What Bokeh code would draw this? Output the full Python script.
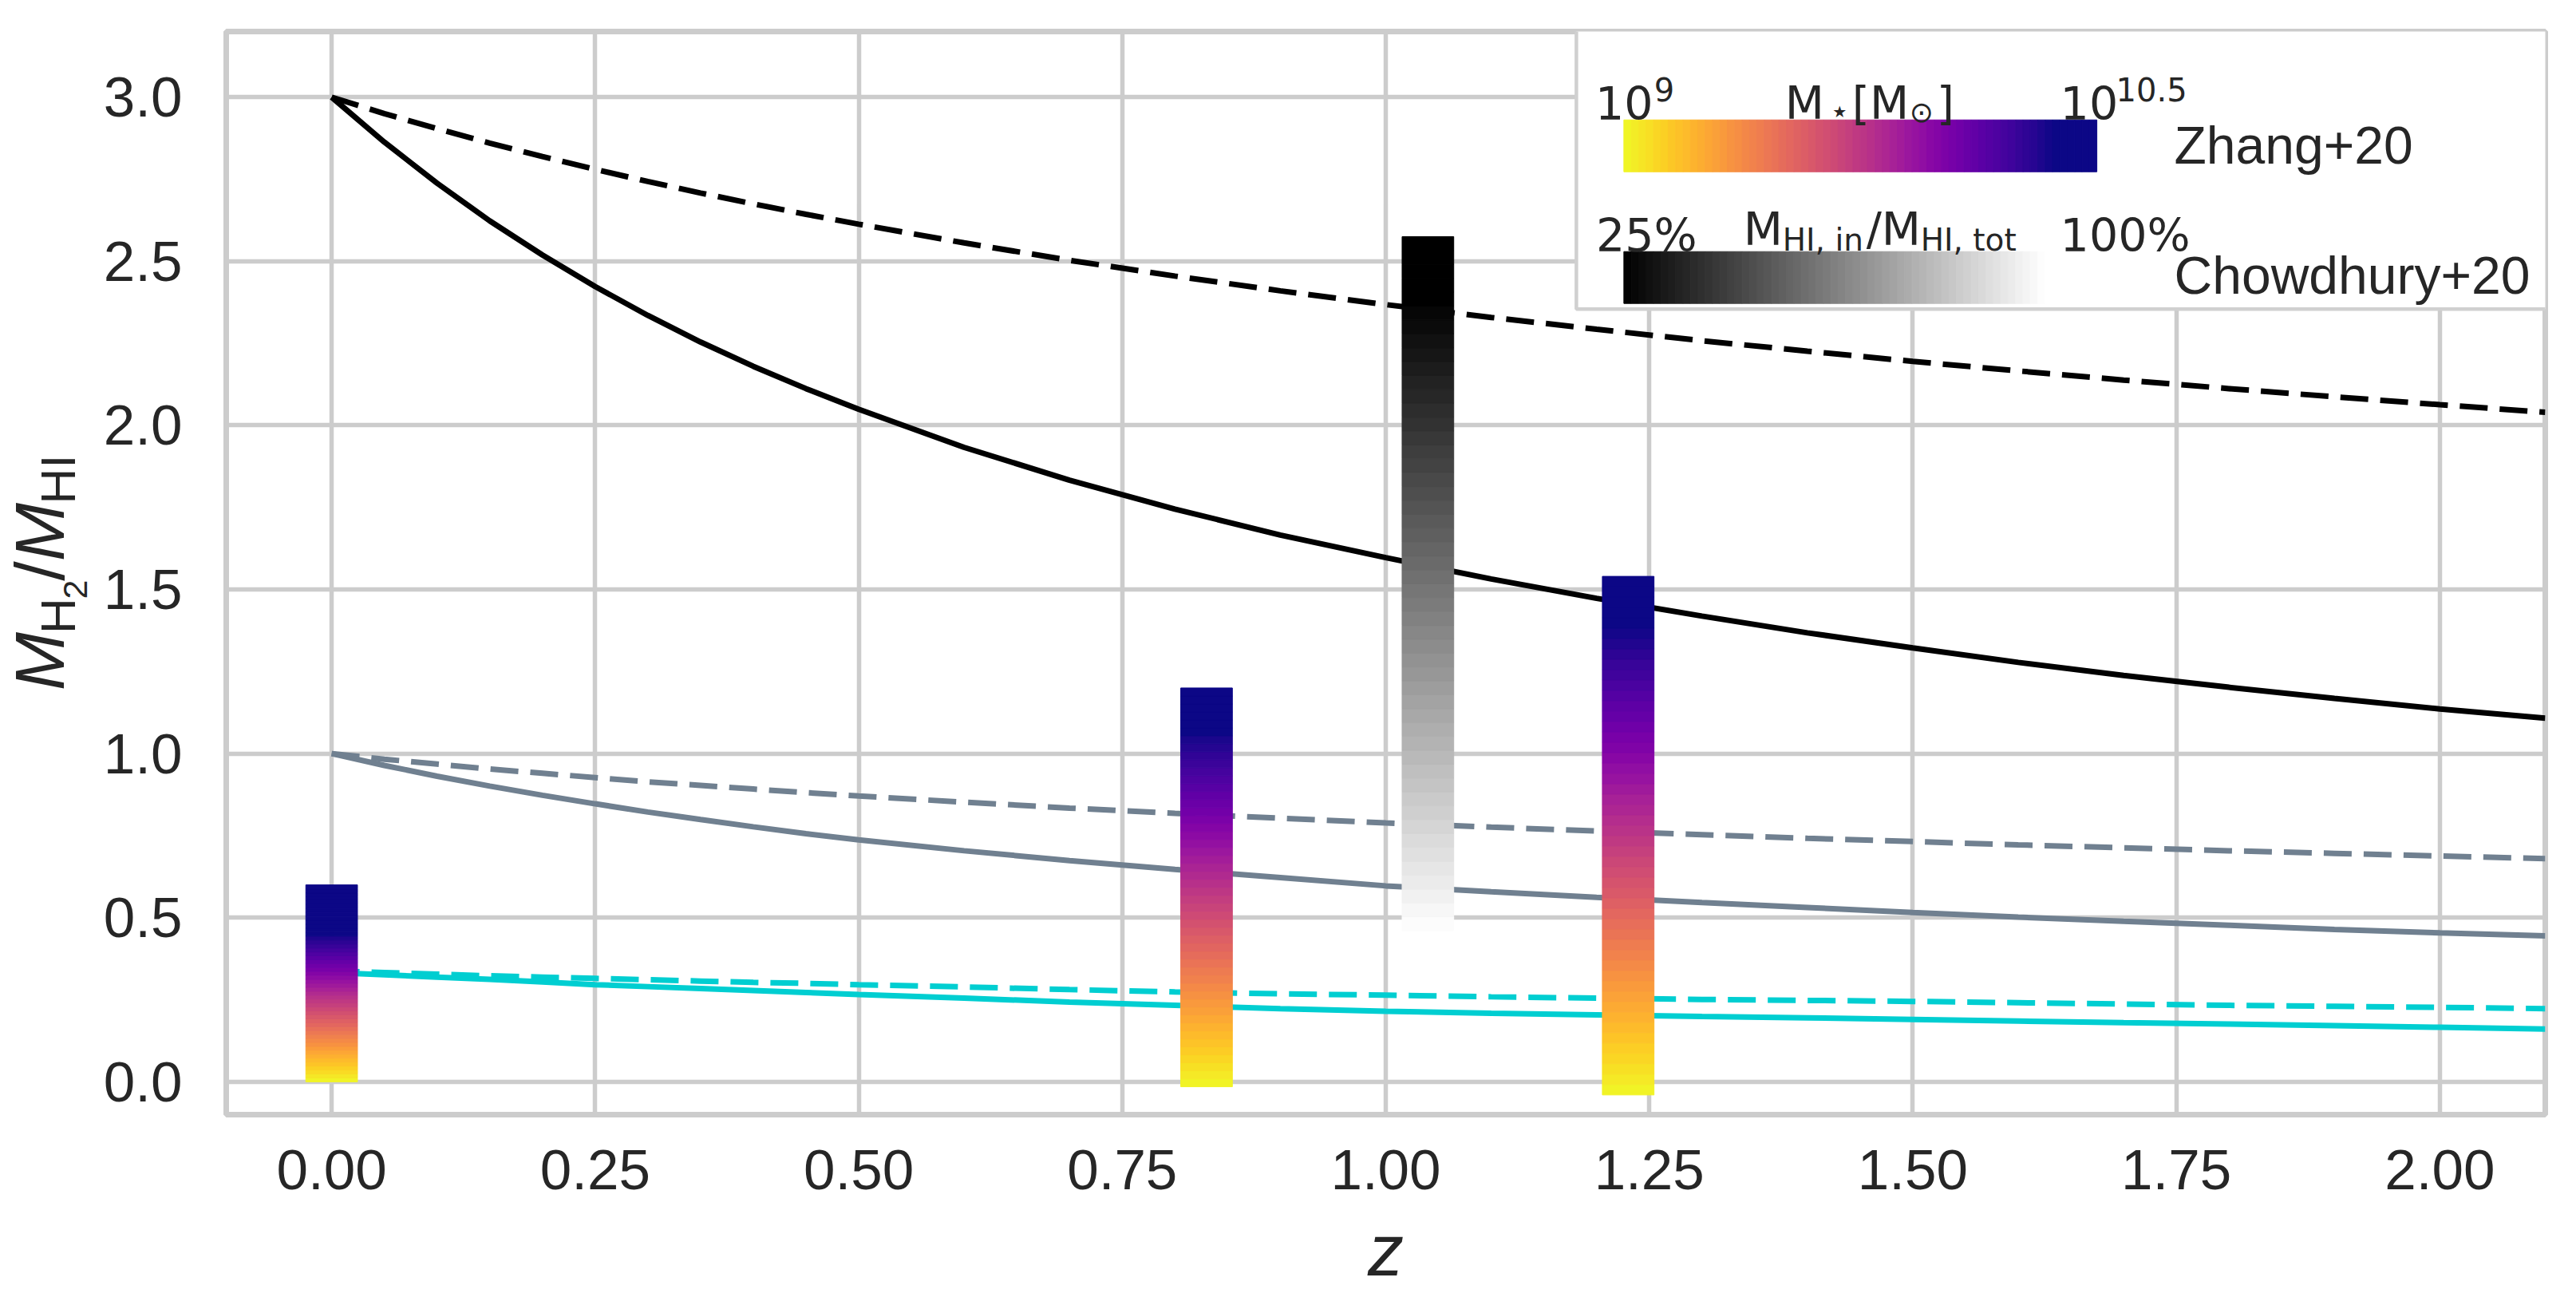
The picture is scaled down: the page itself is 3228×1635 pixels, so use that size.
import numpy as np
from bokeh.plotting import figure
from bokeh.layouts import row
from bokeh.models import Range1d, FixedTicker, Label, NumeralTickFormatter
from bokeh.palettes import Plasma256
from bokeh.embed import file_html
from bokeh.resources import INLINE

# ---------------- data ----------------
z_grid = [0.0, 0.05, 0.1, 0.15, 0.2, 0.25, 0.3, 0.35, 0.4, 0.45, 0.5,
          0.6, 0.7, 0.8, 0.9, 1.0, 1.1, 1.2, 1.3, 1.4, 1.5, 1.6, 1.7, 1.8, 1.9, 2.0, 2.1]
black_solid = [3.000, 2.863, 2.738, 2.623, 2.519, 2.423, 2.335, 2.254, 2.180, 2.112, 2.049,
               1.933, 1.833, 1.745, 1.666, 1.597, 1.532, 1.473, 1.419, 1.368, 1.322,
               1.278, 1.238, 1.202, 1.168, 1.136, 1.108]
black_dashed = [3.000, 2.950, 2.904, 2.860, 2.819, 2.780, 2.743, 2.708, 2.675, 2.643, 2.613,
                2.556, 2.503, 2.455, 2.410, 2.368, 2.329, 2.293, 2.258, 2.226, 2.195,
                2.166, 2.138, 2.112, 2.087, 2.063, 2.040]
gray_solid = [1.000, 0.964, 0.931, 0.901, 0.873, 0.847, 0.822, 0.799, 0.777, 0.756, 0.737,
              0.704, 0.674, 0.647, 0.622, 0.597, 0.579, 0.562, 0.546, 0.531, 0.516,
              0.502, 0.489, 0.477, 0.464, 0.454, 0.445]
gray_dashed = [1.000, 0.983, 0.968, 0.953, 0.940, 0.927, 0.914, 0.903, 0.892, 0.881, 0.871,
               0.852, 0.834, 0.818, 0.803, 0.789, 0.776, 0.764, 0.753, 0.742, 0.732,
               0.722, 0.713, 0.704, 0.696, 0.688, 0.680]
cyan_solid = [0.333, 0.326, 0.319, 0.312, 0.304, 0.296, 0.290, 0.284, 0.278, 0.272, 0.266,
              0.255, 0.243, 0.233, 0.223, 0.215, 0.209, 0.204, 0.199, 0.195, 0.190,
              0.185, 0.180, 0.176, 0.171, 0.166, 0.161]
cyan_dashed = [0.338, 0.333, 0.328, 0.323, 0.319, 0.315, 0.311, 0.307, 0.303, 0.300, 0.296,
               0.289, 0.281, 0.274, 0.268, 0.264, 0.259, 0.255, 0.251, 0.248, 0.245,
               0.241, 0.237, 0.233, 0.230, 0.227, 0.223]

# Zhang+20 ranges (colour = stellar mass, 10^9 .. 10^10.5)
zhang_z = [0.0, 0.83, 1.23]
zhang_low = [0.0, -0.015, -0.04]
zhang_high = [0.60, 1.20, 1.54]
zhang_mass_cap = [0.75, 0.886, 0.90]   # fraction of range height where M* reaches 10^10.5

# Chowdhury+20 range (colour = M_HI,in / M_HI,tot, 25% .. 100%)
chowdhury_z = [1.04]
chowdhury_low = [0.46]
chowdhury_high = [2.575]
chowdhury_cap = [0.91]

x_ticks = [0.0, 0.25, 0.5, 0.75, 1.0, 1.25, 1.5, 1.75, 2.0]
y_ticks = [0.0, 0.5, 1.0, 1.5, 2.0, 2.5, 3.0]

# ---------------- styles / layout ----------------
TXT = "#262626"
GRID = "#cccccc"
SANS = "Liberation Sans"
MATH = "DejaVu Sans"
N_BANDS = 50
BAR_W = 0.049
LW = 7

TOTAL_W, TOTAL_H = 3220, 1630
LEFT_W = 126          # strip holding the rotated y label
FRAME_TOP, FRAME_BOT = 39, 1396

p = figure(width=TOTAL_W - LEFT_W, height=TOTAL_H,
           x_range=Range1d(-0.1, 2.1), y_range=Range1d(-0.1, 3.2),
           output_backend="svg", toolbar_location=None,
           min_border_left=156, min_border_right=31,
           min_border_top=FRAME_TOP, min_border_bottom=TOTAL_H - FRAME_BOT)
p.background_fill_color = "white"
p.border_fill_color = "white"
p.outline_line_color = GRID
p.outline_line_width = 7

for ax, ticks, fmt in ((p.xaxis, x_ticks, "0.00"), (p.yaxis, y_ticks, "0.0")):
    ax.ticker = FixedTicker(ticks=ticks)
    ax.formatter = NumeralTickFormatter(format=fmt)
    ax.axis_line_color = None
    ax.major_tick_line_color = None
    ax.minor_tick_line_color = None
    ax.major_tick_out = 0
    ax.major_tick_in = 0
    ax.major_label_text_font = SANS
    ax.major_label_text_font_size = "71px"
    ax.major_label_text_color = TXT
p.xaxis.major_label_standoff = 44
p.yaxis.major_label_standoff = 55

p.xaxis.axis_label = "z"
p.xaxis.axis_label_text_font = SANS
p.xaxis.axis_label_text_font_style = "italic"
p.xaxis.axis_label_text_font_size = "90px"
p.xaxis.axis_label_text_color = TXT
p.xaxis.axis_label_standoff = 24

p.xgrid.ticker = FixedTicker(ticks=x_ticks)
p.ygrid.ticker = FixedTicker(ticks=y_ticks)
for g in (p.xgrid, p.ygrid):
    g.grid_line_color = GRID
    g.grid_line_width = 5.5

# ---------------- model lines ----------------
DASH = "35 15"
p.line(z_grid, black_solid, line_color="black", line_width=LW)
p.line(z_grid, black_dashed, line_color="black", line_width=LW, line_dash=DASH)
p.line(z_grid, gray_solid, line_color="#708090", line_width=LW)
p.line(z_grid, gray_dashed, line_color="#708090", line_width=LW, line_dash=DASH)
p.line(z_grid, cyan_solid, line_color="#00ced1", line_width=LW)
p.line(z_grid, cyan_dashed, line_color="#00ced1", line_width=LW, line_dash=DASH)


def plasma_col(c):
    # c = 0 -> lowest value (yellow), c = 1 -> highest (navy)
    return Plasma256[int(round((1.0 - c) * 255))]


def gray_col(c):
    v = int(round(255 * (1.0 - c)))
    return "#%02x%02x%02x" % (v, v, v)


# ---------------- gradient ranges ----------------
def gradient_bars(zs, lows, highs, caps, colfn):
    L, R, B, T, C = [], [], [], [], []
    for zc, lo, hi, cap in zip(zs, lows, highs, caps):
        step = (hi - lo) / N_BANDS
        for i in range(N_BANDS):
            t = (i + 0.5) / N_BANDS
            c = min(t / cap, 1.0)
            L.append(zc - BAR_W / 2)
            R.append(zc + BAR_W / 2)
            B.append(lo + i * step)
            T.append(lo + (i + 1) * step)
            C.append(colfn(c))
    p.quad(left=L, right=R, bottom=B, top=T, fill_color=C, line_color=C, line_width=1)


gradient_bars(zhang_z, zhang_low, zhang_high, zhang_mass_cap, plasma_col)
gradient_bars(chowdhury_z, chowdhury_low, chowdhury_high, chowdhury_cap, gray_col)

# ---------------- legend (positions in page pixels -> data) ----------------
X0_PX, X_SC = 414.0, 1321.5
Y0_PX, Y_SC = 1355.3, 411.27


def dx(px):
    return (px - X0_PX) / X_SC


def dy(py):
    return (Y0_PX - py) / Y_SC


p.quad(left=dx(1974.5), right=2.3, bottom=dy(387), top=3.4,
       fill_color="white", line_color="#d0d0d0", line_width=4.5)


def legend_strip(x0, x1, y0, y1, colfn, cap, n=64):
    L, R, C = [], [], []
    w = (x1 - x0) / n
    for j in range(n):
        s = (j + 0.5) / n
        L.append(x0 + j * w)
        R.append(x0 + (j + 1) * w)
        C.append(colfn(min(s / cap, 1.0)))
    p.quad(left=L, right=R, bottom=[y0] * n, top=[y1] * n,
           fill_color=C, line_color=C, line_width=1)


legend_strip(dx(2034), dx(2627), dy(215), dy(150), plasma_col, 0.905)
legend_strip(dx(2034), dx(2627), dy(380), dy(315), lambda c: gray_col(1.0 - c), 0.89)

BASE_FIX = 0.27   # baseline correction (in em) for Label's alphabetic anchor


def lab(fig, conv, text, px, py, size, font=MATH, style="normal", align="left",
        baseline="alphabetic", angle=0.0, fix=True):
    cx, cy = conv
    if fix and baseline == "alphabetic":
        py = py - BASE_FIX * size
    fig.add_layout(Label(x=cx(px), y=cy(py), text=text, text_font=font,
                         text_font_size=f"{size}px", text_font_style=style,
                         text_align=align, text_baseline=baseline, angle=angle,
                         text_color=TXT))


MAIN = (dx, dy)
# top row: stellar mass colour scale
lab(p, MAIN, "10", 1998, 144, 57)
lab(p, MAIN, "9", 2072, 123, 40)
lab(p, MAIN, "M", 2236, 144, 57)
lab(p, MAIN, "\u22c6", 2292, 150, 40)
lab(p, MAIN, "[M", 2320, 144, 57)
lab(p, MAIN, "\u2299", 2392, 150, 36)
lab(p, MAIN, "]", 2426, 144, 57)
lab(p, MAIN, "10", 2581, 144, 57)
lab(p, MAIN, "10.5", 2651, 123, 40)
lab(p, MAIN, "Zhang+20", 2724, 200, 66, font=SANS)

# second row: HI fraction colour scale
lab(p, MAIN, "25%", 1999, 310, 57)
lab(p, MAIN, "M", 2184, 302, 57)
lab(p, MAIN, "HI, in", 2233, 311, 39)
lab(p, MAIN, "/", 2338, 302, 57)
lab(p, MAIN, "M", 2357, 302, 57)
lab(p, MAIN, "HI, tot", 2406, 311, 39)
lab(p, MAIN, "100%", 2581, 310, 57)
lab(p, MAIN, "Chowdhury+20", 2724, 363, 66, font=SANS)

# ---------------- y label strip (page-pixel coordinates; frame aligns with main) ----------------
ylab = figure(width=LEFT_W, height=TOTAL_H,
              x_range=Range1d(0, LEFT_W), y_range=Range1d(FRAME_BOT, FRAME_TOP),
              output_backend="svg", toolbar_location=None,
              min_border_left=0, min_border_right=0,
              min_border_top=FRAME_TOP, min_border_bottom=TOTAL_H - FRAME_BOT)
ylab.axis.visible = False
ylab.grid.visible = False
ylab.outline_line_color = None
ylab.background_fill_color = "white"
ylab.border_fill_color = "white"

ident = (lambda v: v, lambda v: v)
A = np.pi / 2
# pieces anchored at their centres: (text, centre x, centre y, size, style)
for txt, cxp, cyp, size, style in (
        ("M", 49, 828, 88, "italic"),
        ("H", 72, 771, 62, "normal"),
        ("2", 94, 738, 43, "normal"),
        ("/", 49, 715, 88, "normal"),
        ("M", 49, 666, 88, "italic"),
        ("HI", 72, 600, 62, "normal")):
    lab(ylab, ident, txt, cxp, cyp, size, font=SANS, style=style,
        align="center", baseline="middle", angle=A)

layout = row(ylab, p, spacing=0)
open("out.html", "w").write(file_html(layout, INLINE))
